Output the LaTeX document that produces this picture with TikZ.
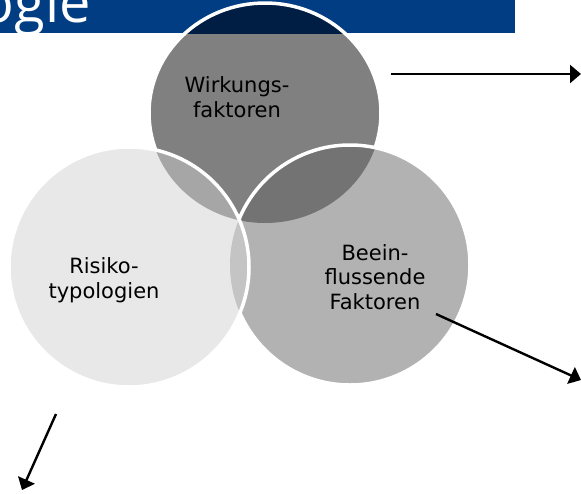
\documentclass[tikz,border=0pt]{standalone}
\usepackage{fontspec}
\setmainfont{DejaVu Sans}
\newfontfamily\bannerfont{Open Sans}
\usetikzlibrary{arrows.meta}

\definecolor{bannerblue}{RGB}{0,61,131}
\definecolor{bannernavy}{RGB}{0,30,68}
\definecolor{wirkgray}{RGB}{128,128,128}
\definecolor{risikogray}{RGB}{232,232,232}
\definecolor{beeingray}{RGB}{178,178,178}
\definecolor{wirkrisiko}{RGB}{166,166,166}
\definecolor{wirkbeein}{RGB}{115,115,115}
\definecolor{risikobeein}{RGB}{196,196,196}
\definecolor{allthree}{RGB}{140,140,140}

\tikzset{
  wirkcirc/.style={insert path={(265,113) ellipse [x radius=116pt, y radius=110pt]}},
  risikocirc/.style={insert path={(129,267) circle [radius=120pt]}},
  beeincirc/.style={insert path={(350,265) circle [radius=120pt]}},
  rim/.style={draw=white, line width=3.5pt},
  bubbletext/.style={align=center, inner sep=0pt, font=\fontsize{21}{24.5}\selectfont},
  pointer/.style={line width=2.4pt, -{Triangle[length=11pt,width=18pt]}}
}

\begin{document}
\begin{tikzpicture}[x=1pt,y=-1pt]

			\useasboundingbox (0,0) rectangle (581,493);

			% title banner
			\fill[bannerblue] (0,0) rectangle (515,33);
			\node[anchor=base east, inner sep=0pt, text=white, font=\bannerfont\fontsize{56}{56}\selectfont] (title) at (91,22) {ogie};

			% Wirkungsfaktoren
			\fill[wirkgray, wirkcirc];
			\begin{scope}
				\clip (0,0) rectangle (515,33);
				\fill[bannernavy, wirkcirc];
			\end{scope}
			\path[rim, wirkcirc];

			% Beeinflussende Faktoren
			\fill[beeingray, beeincirc];
			\begin{scope}
				\clip[beeincirc];
				\fill[wirkbeein, wirkcirc];
			\end{scope}
			\path[rim, beeincirc];

			% Risikotypologien
			\fill[risikogray, risikocirc];
			\begin{scope}
				\clip[risikocirc];
				\fill[wirkrisiko, wirkcirc];
				\fill[risikobeein, beeincirc];
				\clip[beeincirc];
				\fill[allthree, wirkcirc];
			\end{scope}
			\path[rim, risikocirc];

			%labels circles
			\node[bubbletext] (wirk) at (237,97) {Wirkungs-\\faktoren};
			\node[bubbletext] (risiko) at (104,280) {Risiko-\\typologien};
			\node[bubbletext] (beein) at (375,277) {Beein-\\flussende\\Faktoren};

			% arrows
			\coordinate (wirkfrom) at (391,74);
			\coordinate (wirkto) at (581,74);
			\coordinate (beeinfrom) at (436,314);
			\coordinate (beeinto) at (581,380);
			\coordinate (risikofrom) at (56,414);
			\coordinate (risikoto) at (22,490);
			\draw[pointer] (wirkfrom) -- (wirkto);
			\draw[pointer] (beeinfrom) -- (beeinto);
			\draw[pointer] (risikofrom) -- (risikoto);

\end{tikzpicture}
\end{document}
